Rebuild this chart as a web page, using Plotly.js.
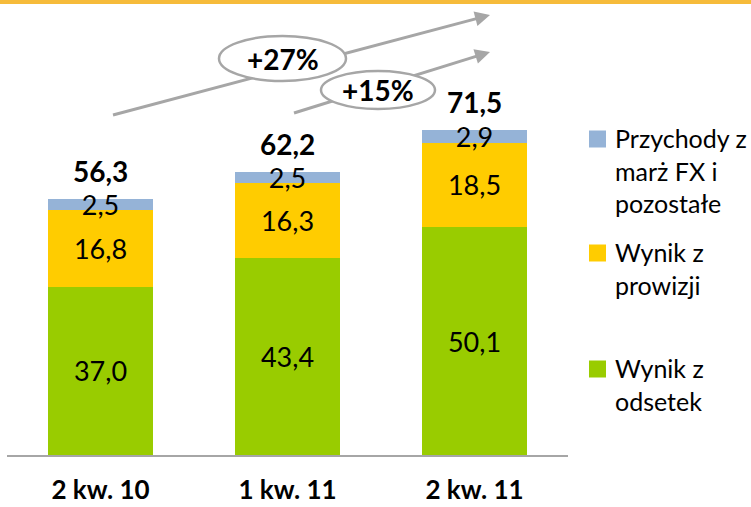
<!DOCTYPE html>
<html>
<head>
<meta charset="utf-8">
<script src="https://cdn.plot.ly/plotly-3.0.1.min.js"></script>
<style>html,body{margin:0;padding:0;background:#fff;}#chart{width:751px;height:507px;}</style>
</head>
<body>
<div id="chart"></div>
<script>
// ---- data ----
const categories = ["2 kw. 10", "1 kw. 11", "2 kw. 11"];
const odsetki = [37.0, 43.4, 50.1];      // Wynik z odsetek
const prowizje = [16.8, 16.3, 18.5];     // Wynik z prowizji
const fxPozostale = [2.5, 2.5, 2.9];     // Przychody z marż FX i pozostałe
const totals = [56.3, 62.2, 71.5];
const seriesNames = ["Wynik z<br>odsetek", "Wynik z<br>prowizji", "Przychody z<br>marż FX i<br>pozostałe"];
const growthLabels = ["+27%", "+15%"];

// ---- styling ----
const colors = ["#99CC00", "#FFCC00", "#95B3D7"];
const FONT = "Lato, 'Open Sans', sans-serif";
const fmt = v => v.toFixed(1).replace('.', ',');

const L = 7, R = 568, T = 20, B = 455, W = 751, H = 507;
const px2x = p => (p - L) / (R - L);
const py2y = p => (B - p) / (B - T);

const seriesValues = [odsetki, prowizje, fxPozostale];
const traces = seriesValues.map((vals, i) => ({
  type: 'bar',
  x: categories,
  y: vals,
  name: seriesNames[i],
  marker: {color: colors[i], line: {width: 0}},
  text: vals.map(fmt),
  textposition: 'inside',
  insidetextanchor: 'middle',
  constraintext: 'none',
  textfont: {family: FONT, size: 27, color: '#000'},
  hoverinfo: 'skip'
}));

const annotations = [];
const shapes = [];

// total labels
totals.forEach((t, i) => {
  annotations.push({
    x: categories[i], y: t, xref: 'x', yref: 'y',
    text: '<b>' + fmt(t) + '</b>', showarrow: false,
    xanchor: 'center', yanchor: 'bottom', yshift: 9,
    font: {family: FONT, size: 28, color: '#000'}
  });
});

// top orange band
shapes.push({type: 'rect', xref: 'paper', yref: 'paper', x0: px2x(0), x1: px2x(W), y0: py2y(0), y1: py2y(4),
  fillcolor: '#F6BB3A', line: {width: 0}, layer: 'above'});

// growth arrows
const arrowDefs = [
  {from: [113, 115], to: [490, 15], ell: [219, 36, 346, 81]},
  {from: [294, 113], to: [490, 52], ell: [321, 71, 435, 109]}
];
const grey = '#A6A6A6';
arrowDefs.forEach((a, k) => {
  const dx = a.to[0] - a.from[0], dy = a.to[1] - a.from[1];
  const len = Math.hypot(dx, dy), ux = dx / len, uy = dy / len;
  const hl = 15, hw = 7.5;
  const bx = a.to[0] - ux * hl, by = a.to[1] - uy * hl;
  shapes.push({type: 'line', xref: 'paper', yref: 'paper',
    x0: px2x(a.from[0]), y0: py2y(a.from[1]), x1: px2x(bx + ux * 2), y1: py2y(by + uy * 2),
    line: {color: grey, width: 3}, layer: 'above'});
  const p1 = [bx - uy * hw, by + ux * hw], p2 = [bx + uy * hw, by - ux * hw];
  shapes.push({type: 'path', xref: 'paper', yref: 'paper',
    path: `M ${px2x(a.to[0])} ${py2y(a.to[1])} L ${px2x(p1[0])} ${py2y(p1[1])} L ${px2x(p2[0])} ${py2y(p2[1])} Z`,
    fillcolor: grey, line: {color: grey, width: 0}, layer: 'above'});
});
arrowDefs.forEach((a, k) => {
  const e = a.ell;
  shapes.push({type: 'circle', xref: 'paper', yref: 'paper',
    x0: px2x(e[0]), x1: px2x(e[2]), y0: py2y(e[3]), y1: py2y(e[1]),
    fillcolor: '#fff', line: {color: grey, width: 2.5}, layer: 'above'});
  annotations.push({xref: 'paper', yref: 'paper', x: px2x((e[0] + e[2]) / 2), y: py2y((e[1] + e[3]) / 2),
    xanchor: 'center', yanchor: 'middle',
    text: '<b>' + growthLabels[k] + '</b>', showarrow: false,
    font: {family: FONT, size: 28, color: '#000'}});
});

// custom legend (top to bottom: FX, prowizje, odsetki)
const legendTops = [139, 253, 369];
[2, 1, 0].forEach((si, j) => {
  const cy = legendTops[j];
  shapes.push({type: 'rect', xref: 'paper', yref: 'paper',
    x0: px2x(589), x1: px2x(606), y0: py2y(cy + 8.5), y1: py2y(cy - 8.5),
    fillcolor: colors[si], line: {width: 0}, layer: 'above'});
  annotations.push({xref: 'paper', yref: 'paper', x: px2x(613), y: py2y(cy - 18),
    xanchor: 'left', yanchor: 'top', align: 'left', showarrow: false,
    text: seriesNames[si], font: {family: FONT, size: 25, color: '#000'}});
});

const layout = {
  width: W, height: H,
  margin: {l: L, r: W - R, t: T, b: H - B, pad: 0},
  paper_bgcolor: '#fff', plot_bgcolor: 'rgba(0,0,0,0)',
  barmode: 'stack', bargap: 0.44,
  showlegend: false,
  xaxis: {
    type: 'category', range: [-0.5, 2.5], showline: true, linecolor: '#A6A6A6', linewidth: 1.5,
    ticks: '', showgrid: false, zeroline: false, ticklabelstandoff: 11,
    tickfont: {family: FONT, size: 26, color: '#000', weight: 'bold'}
  },
  yaxis: {range: [0, (B - T) / 4.55], visible: false, fixedrange: true},
  shapes: shapes,
  annotations: annotations,
  font: {family: FONT}
};

Plotly.newPlot('chart', traces, layout, {displayModeBar: false, staticPlot: true});
</script>
</body>
</html>
